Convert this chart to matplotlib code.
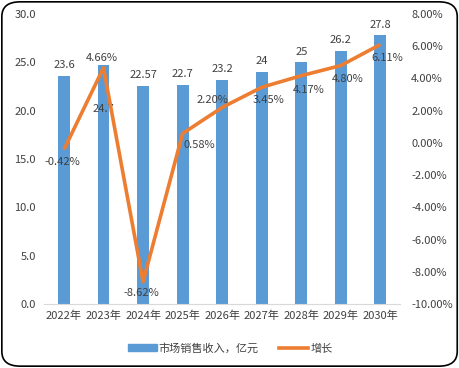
import matplotlib
matplotlib.use('Agg')
import matplotlib.pyplot as plt
from matplotlib.patches import FancyBboxPatch
from matplotlib.lines import Line2D
from matplotlib.patches import Patch

plt.rcParams['font.family'] = ['Noto Sans CJK SC', 'DejaVu Sans']

years = ['2022年', '2023年', '2024年', '2025年', '2026年', '2027年', '2028年', '2029年', '2030年']
revenue = [23.6, 24.7, 22.57, 22.7, 23.2, 24, 25, 26.2, 27.8]
revenue_labels = ['23.6', '24.7', '22.57', '22.7', '23.2', '24', '25', '26.2', '27.8']
growth = [-0.42, 4.66, -8.62, 0.58, 2.20, 3.45, 4.17, 4.80, 6.11]

blue = '#5B9BD5'
orange = '#ED7D31'
txt = '#404040'
fs = 8

fig = plt.figure(figsize=(4.6, 3.68), dpi=100)
ax = fig.add_axes([0.096, 0.174, 0.774, 0.788])
ax2 = ax.twinx()

x = list(range(len(years)))
ax.bar(x, revenue, width=0.3, color=blue, zorder=2)
ax.set_ylim(0, 30)
ax.set_yticks([0, 5, 10, 15, 20, 25, 30])
ax.set_yticklabels(['%.1f' % v for v in [0, 5, 10, 15, 20, 25, 30]])
ax.set_xlim(-0.5, len(years) - 0.5)
ax.set_xticks(x)
ax.set_xticklabels(years)

ax2.plot(x, growth, color=orange, lw=2.6, solid_capstyle='butt', zorder=3)
ax2.set_ylim(-10, 8)
rt = list(range(-10, 9, 2))
ax2.set_yticks(rt)
ax2.set_yticklabels(['%.2f%%' % v for v in rt])

for a in (ax, ax2):
    for s in a.spines.values():
        s.set_visible(False)
    a.tick_params(length=0, labelsize=fs, colors=txt)
ax.spines['bottom'].set_visible(True)
ax.spines['bottom'].set_color('#D9D9D9')
ax.tick_params(axis='x', pad=5)
ax.tick_params(axis='y', pad=6)
ax2.tick_params(axis='y', pad=8)

# bar value labels (2023 label sits inside bar in reference)
for i, (v, lab) in enumerate(zip(revenue, revenue_labels)):
    dy = 4
    va = 'bottom'
    if i == 1:
        dy = -28
        va = 'top'
    ax.annotate(lab, (i, v), xytext=(0, dy), textcoords='offset points',
                ha='center', va=va, fontsize=fs, color=txt, zorder=4)

# growth labels
offs = [(-1, -9), (-1, 7), (-1, -8), (12, -8), (-7, 5), (5, -9), (5, -10), (5, -10), (5, -10)]
for i, (g, o) in enumerate(zip(growth, offs)):
    ax2.annotate('%.2f%%' % g, (i, g), xytext=o, textcoords='offset points',
                 ha='center', va='center', fontsize=fs, color=txt, zorder=5)

handles = [Patch(color=blue), Line2D([0], [0], color=orange, lw=2.6)]
fig.legend(handles, ['市场销售收入，亿元', '增长'], loc='center', bbox_to_anchor=(0.5, 0.053),
           ncol=2, frameon=False, fontsize=fs, labelcolor=txt, handlelength=2.6,
           handleheight=0.6, columnspacing=1.8, handletextpad=0.2)

border = FancyBboxPatch((0.004, 0.005), 0.99, 0.99, boxstyle='round,pad=0,rounding_size=0.04',
                        transform=fig.transFigure, fill=False, ec='black', lw=1.2)
fig.patches.append(border)

fig.savefig('out.png', dpi=100)
